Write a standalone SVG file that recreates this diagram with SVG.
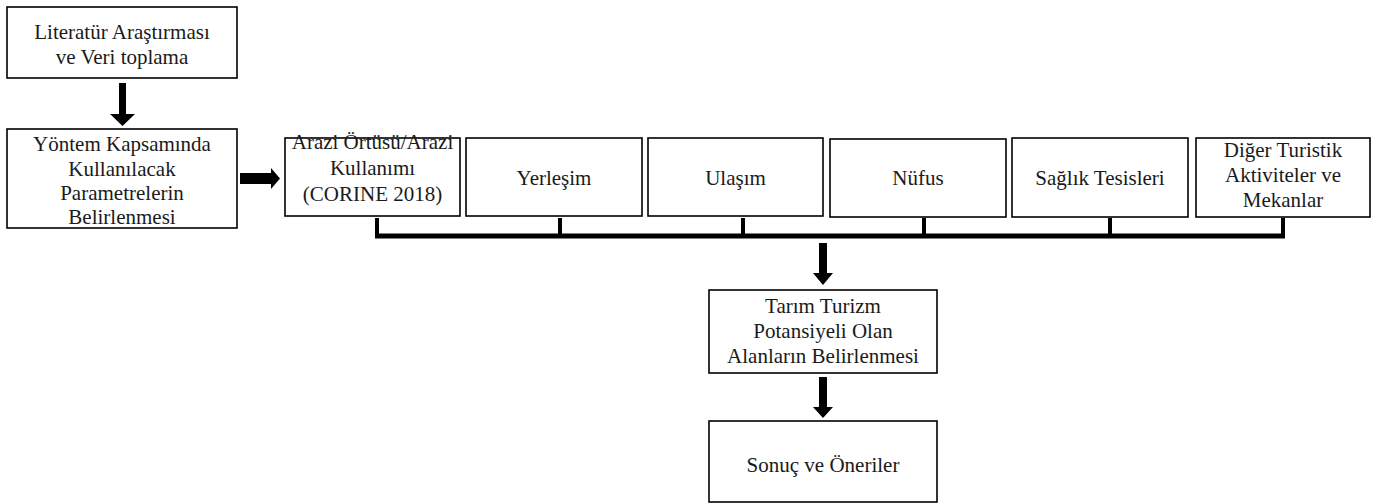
<svg xmlns="http://www.w3.org/2000/svg" width="1374" height="504" viewBox="0 0 1374 504">
<style>
.box{fill:#fff;stroke:#000;stroke-width:1.6}
text{font-family:"Liberation Serif",serif;font-size:21px;fill:#1a1a1a;text-anchor:middle}
.arr{fill:#000}
.bus{stroke:#000;fill:none}
</style>
<rect width="1374" height="504" fill="#fff"/>
<g id="n1"><rect class="box" x="7" y="7" width="230" height="71"/><text x="122" y="39">Literatür Araştırması</text><text x="122" y="64">ve Veri toplama</text></g>
<g id="n2"><rect class="box" x="7" y="129" width="230" height="99"/><text x="122" y="151">Yöntem Kapsamında</text><text x="122" y="176">Kullanılacak</text><text x="122" y="200">Parametrelerin</text><text x="122" y="224">Belirlenmesi</text></g>
<g id="n3"><rect class="box" x="285" y="138" width="175" height="78"/><text x="372.5" y="149">Arazi Örtüsü/Arazi</text><text x="372.5" y="175">Kullanımı</text><text x="372.5" y="201">(CORINE 2018)</text></g>
<g id="n4"><rect class="box" x="466" y="138" width="176" height="78"/><text x="554" y="185">Yerleşim</text></g>
<g id="n5"><rect class="box" x="648" y="138" width="175" height="78"/><text x="735.5" y="185">Ulaşım</text></g>
<g id="n6"><rect class="box" x="830" y="139" width="176" height="78"/><text x="918" y="185">Nüfus</text></g>
<g id="n7"><rect class="box" x="1012" y="138" width="176" height="79"/><text x="1100" y="185">Sağlık Tesisleri</text></g>
<g id="n8"><rect class="box" x="1196" y="138" width="174" height="79"/><text x="1283" y="157">Diğer Turistik</text><text x="1283" y="182">Aktiviteler ve</text><text x="1283" y="207">Mekanlar</text></g>
<g id="n9"><rect class="box" x="709" y="290" width="228" height="83"/><text x="823" y="313">Tarım Turizm</text><text x="823" y="338">Potansiyeli Olan</text><text x="823" y="363">Alanların Belirlenmesi</text></g>
<g id="n10"><rect class="box" x="709" y="421" width="228" height="81"/><text x="823" y="472">Sonuç ve Öneriler</text></g>
<g id="connectors">
<polygon class="arr" points="119,83 126,83 126,114 135,114 122.5,126 110,114 119,114"/>
<polygon class="arr" points="240,173 271,173 271,168 280,178.5 271,189 271,184 240,184"/>
<g class="bus" stroke-width="4"><line x1="377" y1="218" x2="377" y2="236"/><line x1="560" y1="218" x2="560" y2="236"/><line x1="743" y1="218" x2="743" y2="236"/><line x1="924" y1="218" x2="924" y2="236"/><line x1="1110" y1="218" x2="1110" y2="236"/><line x1="1283" y1="218" x2="1283" y2="236"/></g>
<line class="bus" stroke-width="5" x1="375" y1="236" x2="1285" y2="236"/>
<polygon class="arr" points="819,243 827,243 827,273 833,273 823,285 813,273 819,273"/>
<polygon class="arr" points="819,377 827,377 827,407 833,407 823,418 813,407 819,407"/>
</g>
</svg>
